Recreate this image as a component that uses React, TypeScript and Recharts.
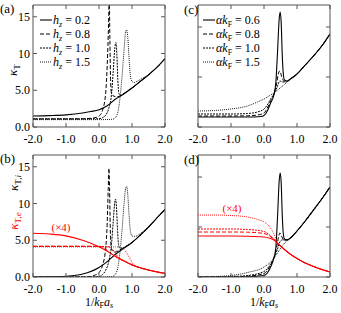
import React from "react";
import { LineChart, Line, XAxis, YAxis } from "recharts";

type P = [number, number][];

const xTicks = [-2, -1, 0, 1, 2];
const yTicksAB = [0, 5, 10, 15];
const yTicksCD = [0, 5, 10];
const hzLabels = ["0.2", "0.8", "1.0", "1.5"];
const akLabels = ["0.6", "0.8", "1.0", "1.5"];

// (a) kappa_T for several h_z
const aH02: P = [[-2, 1.5], [-1.5, 1.55], [-1, 1.65], [-0.5, 1.9], [-0.25, 2.1], [0, 2.35], [0.25, 2.9], [0.5, 3.8], [0.75, 4.5], [1, 5.3], [1.25, 6.2], [1.5, 7.1], [1.75, 8.1], [2, 9.3]];
const aH08: P = [[-2, 1.1], [-1, 1.1], [-0.5, 1.12], [-0.2, 1.2], [0, 1.5], [0.1, 2.2], [0.2, 4.5], [0.25, 8.5], [0.29, 14], [0.31, 17.5], [0.33, 12], [0.35, 6.5], [0.38, 4.5], [0.45, 4.2], [0.55, 4.1], [0.7, 4.4], [0.85, 4.85], [1, 5.3], [1.25, 6.2], [1.5, 7.1], [1.75, 8.1], [2, 9.3]];
const aH10: P = [[-2, 1.1], [-1, 1.1], [0, 1.12], [0.1, 1.25], [0.2, 1.6], [0.3, 2.6], [0.38, 4.5], [0.43, 7.5], [0.48, 10.8], [0.51, 11.5], [0.54, 10], [0.57, 6.5], [0.6, 4.6], [0.65, 4.3], [0.75, 4.5], [0.9, 5.0], [1, 5.3], [1.25, 6.2], [1.5, 7.1], [1.75, 8.1], [2, 9.3]];
const aH15: P = [[-2, 1.0], [-1, 1.0], [0, 1.0], [0.4, 1.05], [0.5, 1.3], [0.58, 2.2], [0.65, 4.5], [0.7, 7], [0.76, 10.5], [0.81, 13], [0.84, 13.2], [0.87, 12.3], [0.91, 9.5], [0.95, 7], [1.0, 6.2], [1.07, 6.05], [1.15, 6.2], [1.3, 6.6], [1.5, 7.1], [1.75, 8.1], [2, 9.3]];

// (c) kappa_T for several alpha k_F
const cA06: P = [[-2, 1.0], [-1, 1.0], [-0.5, 1.0], [-0.1, 1.05], [0, 1.15], [0.1, 1.6], [0.2, 2.4], [0.3, 3.2], [0.36, 4.5], [0.41, 7.5], [0.46, 10.8], [0.49, 11.5], [0.52, 10.5], [0.55, 7.5], [0.58, 5.5], [0.62, 4.7], [0.7, 4.6], [0.8, 4.8], [1, 5.3], [1.25, 6.2], [1.5, 7.1], [1.75, 8.1], [2, 9.3]];
const cA08: P = [[-2, 1.1], [-1, 1.1], [-0.5, 1.12], [-0.2, 1.2], [0, 1.4], [0.1, 1.9], [0.2, 2.6], [0.3, 3.3], [0.38, 4.3], [0.44, 5.4], [0.48, 5.6], [0.53, 5.1], [0.6, 4.6], [0.7, 4.55], [0.8, 4.8], [1, 5.3], [1.25, 6.2], [1.5, 7.1], [1.75, 8.1], [2, 9.3]];
const cA10: P = [[-2, 1.3], [-1, 1.3], [-0.5, 1.35], [-0.2, 1.5], [0, 1.8], [0.1, 2.2], [0.2, 2.8], [0.3, 3.3], [0.4, 4.0], [0.48, 4.6], [0.55, 4.5], [0.65, 4.5], [0.8, 4.8], [1, 5.3], [1.25, 6.2], [1.5, 7.1], [1.75, 8.1], [2, 9.3]];
const cA15: P = [[-2, 1.6], [-1.5, 1.65], [-1, 1.8], [-0.5, 2.1], [-0.2, 2.5], [0, 2.8], [0.2, 3.2], [0.3, 3.4], [0.45, 3.8], [0.6, 4.2], [0.8, 4.8], [1, 5.3], [1.25, 6.2], [1.5, 7.1], [1.75, 8.1], [2, 9.3]];

// (b) kappa_T,i (black) and kappa_T,e (red) for several h_z
const bH02: P = [[-2, 0], [-1.5, 0.02], [-1, 0.1], [-0.5, 0.4], [0, 1.3], [0.25, 2.1], [0.5, 3.1], [0.75, 3.9], [1, 4.7], [1.25, 5.7], [1.5, 6.8], [1.75, 8.0], [2, 9.2]];
const bH08: P = [[-2, 0], [-0.5, 0], [-0.3, 0.05], [-0.1, 0.3], [0, 0.6], [0.1, 1.5], [0.2, 3.8], [0.25, 7.5], [0.28, 12], [0.3, 14.8], [0.32, 12], [0.34, 7], [0.37, 4], [0.42, 3.5], [0.5, 3.4], [0.6, 3.6], [0.75, 4.0], [1, 4.7], [1.25, 5.7], [1.5, 6.8], [1.75, 8.0], [2, 9.2]];
const bH10: P = [[-2, 0], [-0.5, 0], [0, 0.05], [0.1, 0.3], [0.2, 0.9], [0.3, 2.2], [0.38, 4.5], [0.43, 7.5], [0.48, 10.2], [0.5, 10.6], [0.53, 9.5], [0.56, 6.5], [0.6, 4.2], [0.65, 3.8], [0.75, 4.0], [1, 4.7], [1.25, 5.7], [1.5, 6.8], [1.75, 8.0], [2, 9.2]];
const bH15: P = [[-2, 0], [0, 0], [0.4, 0.05], [0.5, 0.4], [0.58, 1.5], [0.65, 4], [0.7, 6.5], [0.76, 10], [0.81, 12.1], [0.84, 12.3], [0.87, 11.3], [0.91, 8.5], [0.95, 6.3], [1.0, 5.6], [1.07, 5.5], [1.15, 5.6], [1.25, 5.9], [1.5, 6.8], [1.75, 8.0], [2, 9.2]];
const bRedH02: P = [[-2, 5.95], [-1.5, 5.85], [-1, 5.6], [-0.5, 5.0], [-0.25, 4.6], [0, 4.1], [0.25, 3.5], [0.5, 2.8], [0.75, 2.2], [1, 1.65], [1.25, 1.25], [1.5, 0.95], [1.75, 0.7], [2, 0.5]];
const bRedH08: P = [[-2, 4.2], [-1, 4.2], [0, 4.18], [0.1, 4.1], [0.2, 3.8], [0.3, 3.4], [0.4, 3.1], [0.5, 2.8], [0.75, 2.2], [1, 1.65], [1.25, 1.25], [1.5, 0.95], [1.75, 0.7], [2, 0.5]];
const bRedH10: P = [[-2, 4.15], [0, 4.15], [0.3, 4.1], [0.4, 3.8], [0.5, 3.2], [0.6, 2.6], [0.75, 2.2], [1, 1.65], [1.25, 1.25], [1.5, 0.95], [1.75, 0.7], [2, 0.5]];
const bRedH15: P = [[-2, 4.1], [0.5, 4.1], [0.65, 4.05], [0.75, 3.8], [0.85, 3.2], [0.95, 2.4], [1.05, 1.7], [1.25, 1.25], [1.5, 0.95], [1.75, 0.7], [2, 0.5]];

// (d) kappa_T,i (black) and kappa_T,e (red) for several alpha k_F
const dA06: P = [[-2, 0], [-1, 0], [-0.5, 0.02], [0, 0.15], [0.1, 0.4], [0.2, 1.0], [0.3, 1.9], [0.36, 3.0], [0.41, 6], [0.46, 9.6], [0.49, 10.4], [0.52, 9.5], [0.55, 6.5], [0.58, 4.5], [0.62, 3.8], [0.7, 3.7], [0.8, 3.9], [1, 4.6], [1.25, 5.6], [1.5, 6.7], [1.75, 7.8], [2, 9.0]];
const dA08: P = [[-2, 0], [-1, 0.02], [-0.5, 0.08], [0, 0.35], [0.1, 0.65], [0.2, 1.2], [0.3, 1.9], [0.38, 2.9], [0.44, 4.0], [0.48, 4.4], [0.53, 4.1], [0.6, 3.7], [0.7, 3.7], [0.8, 3.9], [1, 4.6], [1.25, 5.6], [1.5, 6.7], [1.75, 7.8], [2, 9.0]];
const dA10: P = [[-2, 0], [-1, 0.05], [-0.5, 0.15], [0, 0.55], [0.1, 0.85], [0.2, 1.3], [0.3, 1.9], [0.4, 2.7], [0.48, 3.5], [0.55, 3.7], [0.65, 3.7], [0.8, 3.9], [1, 4.6], [1.25, 5.6], [1.5, 6.7], [1.75, 7.8], [2, 9.0]];
const dA15: P = [[-2, 0.02], [-1.5, 0.05], [-1, 0.15], [-0.5, 0.45], [0, 1.0], [0.2, 1.5], [0.3, 1.9], [0.45, 2.6], [0.6, 3.3], [0.8, 3.9], [1, 4.6], [1.25, 5.6], [1.5, 6.7], [1.75, 7.8], [2, 9.0]];
const dRedA06: P = [[-2, 4.1], [-1, 4.1], [-0.5, 4.08], [0, 4.0], [0.15, 3.9], [0.3, 3.7], [0.4, 3.4], [0.5, 3.1], [0.75, 2.4], [1, 1.85], [1.25, 1.4], [1.5, 1.05], [1.75, 0.75], [2, 0.5]];
const dRedA08: P = [[-2, 4.5], [-1, 4.5], [-0.5, 4.48], [0, 4.35], [0.15, 4.15], [0.3, 3.75], [0.4, 3.4], [0.5, 3.1], [0.75, 2.4], [1, 1.85], [1.25, 1.4], [1.5, 1.05], [1.75, 0.75], [2, 0.5]];
const dRedA10: P = [[-2, 4.8], [-1, 4.8], [-0.5, 4.75], [0, 4.55], [0.15, 4.25], [0.3, 3.8], [0.4, 3.4], [0.5, 3.1], [0.75, 2.4], [1, 1.85], [1.25, 1.4], [1.5, 1.05], [1.75, 0.75], [2, 0.5]];
const dRedA15: P = [[-2, 6.2], [-1.5, 6.2], [-1, 6.15], [-0.5, 6.0], [-0.25, 5.8], [0, 5.5], [0.15, 5.1], [0.3, 4.3], [0.4, 3.5], [0.5, 3.1], [0.75, 2.4], [1, 1.85], [1.25, 1.4], [1.5, 1.05], [1.75, 0.75], [2, 0.5]];

const FONT = '"Liberation Serif", "DejaVu Serif", serif';
const FRAME = "#555";
const dashes = [undefined, "4 2", "2 1", "1 1"];
const widths = [1.1, 1, 1, 0.9];

const toPts = (d: P) => d.map(([x, y]) => ({ x, y }));

const fmtY = (v: number) => (v >= 10 ? String(v) : v.toFixed(1));

const bottomTick = (p: any) => (
  <g>
    <line x1={p.x} x2={p.x} y1={p.y} y2={p.y - 4} stroke={FRAME} />
    <text x={p.x} y={p.y + 16} textAnchor="middle" fontSize={12} fontFamily={FONT} fill="#000">
      {p.payload.value.toFixed(1)}
    </text>
  </g>
);
const topTick = (p: any) => <line x1={p.x} x2={p.x} y1={p.y} y2={p.y + 4} stroke={FRAME} />;
const rightTick = (p: any) => <line x1={p.x} x2={p.x - 4} y1={p.y} y2={p.y} stroke={FRAME} />;
const leftTick = (p: any) => <line x1={p.x} x2={p.x + 4} y1={p.y} y2={p.y} stroke={FRAME} />;
const leftTickLabeled = (p: any) => (
  <g>
    <line x1={p.x} x2={p.x + 4} y1={p.y} y2={p.y} stroke={FRAME} />
    <text x={p.x - 3} y={p.y + 4} textAnchor="end" fontSize={12} fontFamily={FONT} fill="#000">
      {fmtY(p.payload.value)}
    </text>
  </g>
);

function Panel(props: { left: number; top: number; ymax: number; yTicks: number[]; labels: boolean; black: P[]; red?: P[] }) {
  const { left, top, ymax, yTicks, labels, black, red = [] } = props;
  const axis = { stroke: FRAME };
  return (
    <div style={{ position: "absolute", left, top }}>
      <LineChart width={182} height={150} margin={{ top: 0, right: 12, bottom: 0, left: 0 }}>
        <XAxis xAxisId="b" dataKey="x" type="number" domain={[-2, 2]} ticks={xTicks} height={23}
          tickSize={0} tickMargin={0} tickLine={false} axisLine={axis} tick={bottomTick} allowDataOverflow />
        <XAxis xAxisId="t" orientation="top" dataKey="x" type="number" domain={[-2, 2]} ticks={xTicks} height={5}
          tickSize={0} tickMargin={0} tickLine={false} axisLine={axis} tick={topTick} allowDataOverflow />
        <YAxis yAxisId="l" type="number" domain={[0, ymax]} ticks={yTicks} width={33}
          tickSize={0} tickMargin={0} tickLine={false} axisLine={axis} tick={labels ? leftTickLabeled : leftTick} allowDataOverflow />
        <YAxis yAxisId="r" orientation="right" type="number" domain={[0, ymax]} ticks={yTicks} width={5}
          tickSize={0} tickMargin={0} tickLine={false} axisLine={axis} tick={rightTick} allowDataOverflow />
        {black.map((d, i) => (
          <Line key={"k" + i} xAxisId="b" yAxisId="l" data={toPts(d)} dataKey="y" type="monotone" dot={false}
            stroke="#000" strokeWidth={widths[i]} strokeDasharray={dashes[i]} isAnimationActive={false} />
        ))}
        {red.map((d, i) => (
          <Line key={"r" + i} xAxisId="b" yAxisId="l" data={toPts(d)} dataKey="y" type="monotone" dot={false}
            stroke="#f00" strokeWidth={widths[i]} strokeDasharray={dashes[i]} isAnimationActive={false} />
        ))}
      </LineChart>
    </div>
  );
}

function LegendRows({ x, sym, labels }: { x: number; sym: "h" | "a"; labels: string[] }) {
  const rows = [20, 34, 48, 62];
  return (
    <g>
      {labels.map((lab, i) => (
        <g key={lab + i}>
          <line x1={x} x2={x + 12} y1={rows[i]} y2={rows[i]} stroke="#000" strokeWidth={widths[i]} strokeDasharray={dashes[i]} />
          <text x={x + 13} y={rows[i] + 4} fontSize={12} fontFamily={FONT}>
            {sym === "h" ? (
              <>
                <tspan fontStyle="italic">h</tspan>
                <tspan fontStyle="italic" fontSize={8} dy={3}>z</tspan>
                <tspan dy={-3}> = {lab}</tspan>
              </>
            ) : (
              <>
                <tspan fontStyle="italic">αk</tspan>
                <tspan fontSize={8} dy={3}>F</tspan>
                <tspan dy={-3}> = {lab}</tspan>
              </>
            )}
          </text>
        </g>
      ))}
    </g>
  );
}

function XLabel({ cx }: { cx: number }) {
  return (
    <text x={cx} y={306} textAnchor="middle" fontSize={12} fontFamily={FONT}>
      1/<tspan fontStyle="italic">k</tspan>
      <tspan fontSize={8} dy={2}>F</tspan>
      <tspan fontStyle="italic" dy={-2}>a</tspan>
      <tspan fontStyle="italic" fontSize={8} dy={2}>s</tspan>
    </text>
  );
}

export default function App() {
  return (
    <div style={{ position: "absolute", left: 0, top: 0, width: 341, height: 313, background: "#fff", overflow: "hidden" }}>
      <Panel left={0} top={0} ymax={16.6} yTicks={yTicksAB} labels black={[aH02, aH08, aH10, aH15]} />
      <Panel left={165} top={0} ymax={12.2} yTicks={yTicksCD} labels={false} black={[cA06, cA08, cA10, cA15]} />
      <Panel left={0} top={150} ymax={16.6} yTicks={yTicksAB} labels black={[bH02, bH08, bH10, bH15]} red={[bRedH02, bRedH08, bRedH10, bRedH15]} />
      <Panel left={165} top={150} ymax={12.2} yTicks={yTicksCD} labels={false} black={[dA06, dA08, dA10, dA15]} red={[dRedA06, dRedA08, dRedA10, dRedA15]} />
      <svg width={341} height={313} style={{ position: "absolute", left: 0, top: 0, pointerEvents: "none" }}>
        <g fontFamily={FONT} fontSize={13}>
          <text x={0} y={13}>(a)</text>
          <text x={184} y={14}>(c)</text>
          <text x={0} y={163}>(b)</text>
          <text x={184} y={164}>(d)</text>
        </g>
        <LegendRows x={40} sym="h" labels={hzLabels} />
        <LegendRows x={203} sym="a" labels={akLabels} />
        <text transform="translate(17,70) rotate(-90)" textAnchor="middle" fontSize={13} fontFamily={FONT}>
          <tspan fontStyle="italic">κ</tspan>
          <tspan fontSize={9} dy={3}>T</tspan>
        </text>
        <text transform="translate(18,183) rotate(-90)" textAnchor="middle" fontSize={13} fontFamily={FONT}>
          <tspan fontStyle="italic">κ</tspan>
          <tspan fontSize={9} dy={3}>T,</tspan>
          <tspan fontSize={9} fontStyle="italic">i</tspan>
        </text>
        <text transform="translate(18,221) rotate(-90)" textAnchor="middle" fontSize={13} fontFamily={FONT} fill="#f00">
          <tspan fontStyle="italic">κ</tspan>
          <tspan fontSize={9} dy={3}>T,</tspan>
          <tspan fontSize={9} fontStyle="italic">e</tspan>
        </text>
        <text x={61} y={231} textAnchor="middle" fontSize={11} fontFamily={FONT} fill="#f00">(×4)</text>
        <text x={232} y={212} textAnchor="middle" fontSize={11} fontFamily={FONT} fill="#f00">(×4)</text>
        <XLabel cx={99} />
        <XLabel cx={264} />
      </svg>
    </div>
  );
}
